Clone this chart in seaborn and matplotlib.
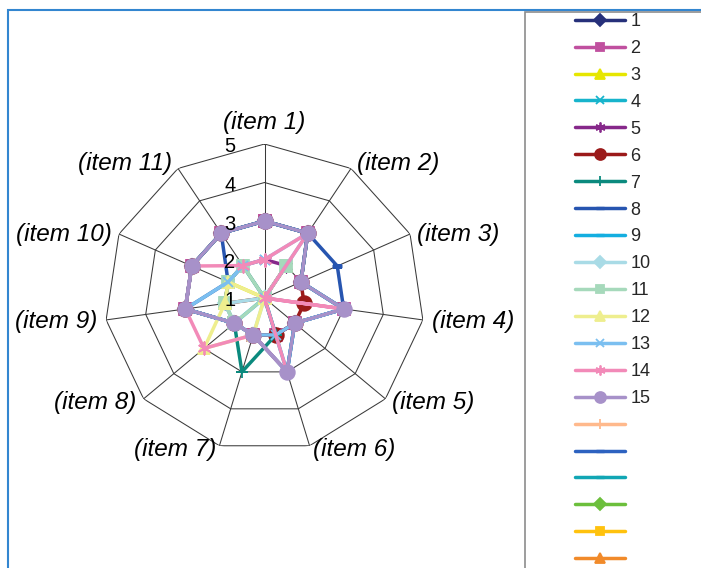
import numpy as np
import matplotlib
matplotlib.use("Agg")
import matplotlib.pyplot as plt
import seaborn as sns
from matplotlib.lines import Line2D
from matplotlib.patches import Rectangle

# ---- data -------------------------------------------------------------
items = ["(item 1)", "(item 2)", "(item 3)", "(item 4)", "(item 5)", "(item 6)",
         "(item 7)", "(item 8)", "(item 9)", "(item 10)", "(item 11)"]
scale_ticks = [1, 2, 3, 4, 5]

s01 = [3, 3, 2, 3, 2, 2, 2, 2, 3, 3, 3]
s02 = [3, 3, 2, 3, 2, 2, 2, 2, 3, 3, 3]
s03 = [1, 2, 1, 1, 1, 1, 1, 1, 2, 2, 1]
s04 = [3, 3, 2, 3, 2, 3, 2, 2, 3, 3, 3]
s05 = [2, 2, 1, 1, 1, 1, 1, 1, 2, 2, 2]
s06 = [3, 3, 2, 2, 2, 2, 2, 2, 3, 3, 3]
s07 = [1, 1, 1, 1, 1, 2, 3, 2, 2, 2, 2]
s08 = [3, 3, 3, 3, 2, 3, 2, 2, 3, 2, 3]
s09 = [3, 3, 2, 3, 2, 3, 1, 2, 3, 3, 3]
s10 = [1, 1, 1, 1, 1, 1, 2, 2, 2, 1, 1]
s11 = [1, 2, 1, 1, 1, 1, 1, 2, 2, 2, 2]
s12 = [1, 1, 1, 1, 1, 1, 2, 3, 2, 2, 1]
s13 = [2, 3, 1, 3, 2, 2, 2, 2, 3, 2, 2]
s14 = [2, 3, 1, 3, 1, 3, 2, 3, 3, 3, 2]
s15 = [3, 3, 2, 3, 2, 3, 2, 2, 3, 3, 3]
# six further series are listed in the legend but hold no values
s16, s17, s18, s19, s20, s21 = [], [], [], [], [], []

series_names = ["1", "2", "3", "4", "5", "6", "7", "8", "9", "10", "11", "12",
                "13", "14", "15", " ", " ", " ", " ", " ", " "]
series_values = [s01, s02, s03, s04, s05, s06, s07, s08, s09, s10, s11, s12,
                 s13, s14, s15, s16, s17, s18, s19, s20, s21]

# ---- styles -----------------------------------------------------------
AST = (6, 2, 0)
colors = ["#26307a", "#c0509f", "#e6e600", "#17b4cc", "#86288a", "#9b1a1a",
          "#0b8a7e", "#2755b0", "#14aee0", "#a9dbe6", "#a6d9bb", "#eeee8e",
          "#7bbff0", "#f28ab8", "#a791c9", "#ffb98c", "#2d62c0", "#11a6b4",
          "#6cbf3c", "#ffc20e", "#f18a2a"]
markers = ["D", "s", "^", "x", AST, "o", "+", "_", "_", "D", "s", "^", "x",
           AST, "o", "+", "_", "_", "D", "s", "^"]
msize = {"D": 7.5, "s": 8.5, "^": 9, "x": 7.5, AST: 9.5, "o": 10.5, "+": 9, "_": 7}

sns.set_theme(style="white")
plt.rcParams["font.family"] = ["Liberation Sans", "DejaVu Sans"]

W, H = 701, 568
fig = plt.figure(figsize=(W / 100, H / 100), dpi=100)
fig.patch.set_facecolor("white")

cx, cy, rx, ry = 264.5, 298.0, 160.0, 154.0
ax = fig.add_axes([(cx - rx) / W, (H - cy - ry) / H, 2 * rx / W, 2 * ry / H],
                  projection="polar")
ax.set_aspect("auto")
ax.set_theta_zero_location("N")
ax.set_theta_direction(-1)
ax.set_ylim(scale_ticks[0], scale_ticks[-1])
ax.set_xticks([])
ax.set_yticks([])
ax.grid(False)
ax.spines["polar"].set_visible(False)
ax.patch.set_alpha(0)

n = len(items)
theta = np.linspace(0, 2 * np.pi, n, endpoint=False)
theta_closed = np.append(theta, theta[0])

# polygon rings and spokes
for r in scale_ticks[1:]:
    ax.plot(theta_closed, [r] * (n + 1), color="#3a3a3a", lw=0.75, zorder=1)
for t in theta:
    ax.plot([t, t], [scale_ticks[0], scale_ticks[-1]], color="#3a3a3a", lw=0.75, zorder=1)

# scale labels along the first spoke
for v in scale_ticks:
    ax.annotate(str(v), xy=(0, v), xytext=(-29, -3), textcoords="offset pixels",
                ha="right", va="center", fontsize=14.5, color="black", zorder=60)

# category labels
label_offsets = [(0, 21), (6, 5), (7, 0), (9, -2), (7, -4), (3, -4),
                 (-3, -4), (-7, -4), (-9, -2), (-7, 0), (-6, 5)]
for t, name, (dx, dy) in zip(theta, items, label_offsets):
    ha = "center" if dx == 0 else ("left" if dx > 0 else "right")
    ax.annotate(name, xy=(t, scale_ticks[-1]), xytext=(dx, dy),
                textcoords="offset pixels", ha=ha, va="center",
                fontsize=17.5, fontstyle="italic", color="black", zorder=60)

# series
handles = []
for k, (name, vals) in enumerate(zip(series_names, series_values)):
    m = markers[k]
    style = dict(color=colors[k], lw=2.5, marker=m, markersize=msize[m],
                 markerfacecolor=colors[k], markeredgecolor=colors[k],
                 markeredgewidth=2.4 if m == "_" else 1.3)
    if len(vals):
        sns.lineplot(x=theta_closed, y=np.append(vals, vals[0]), ax=ax,
                     sort=False, estimator=None, legend=False, zorder=3 + k,
                     **style)
    handles.append(Line2D([], [], label=name, **style))

fig.legend(handles=handles, labels=series_names, loc="upper left",
           bbox_to_anchor=(575 / W, (H - 13) / H), frameon=False,
           fontsize=13, handlelength=2.77, handletextpad=0.3,
           labelspacing=0.55, borderpad=0, borderaxespad=0,
           markerscale=0.75, numpoints=1)

# legend box and chart frame
fig.add_artist(Rectangle((525 / W, -0.1), 1.0, (H - 12) / H + 0.1,
                         transform=fig.transFigure, fill=False,
                         edgecolor="#8c8c8c", lw=1.2))
fig.add_artist(Rectangle((8 / W, -0.1), 1.2, (H - 10) / H + 0.1,
                         transform=fig.transFigure, fill=False,
                         edgecolor="#3386d0", lw=1.5))

fig.savefig("out.png", dpi=100, facecolor="white")
